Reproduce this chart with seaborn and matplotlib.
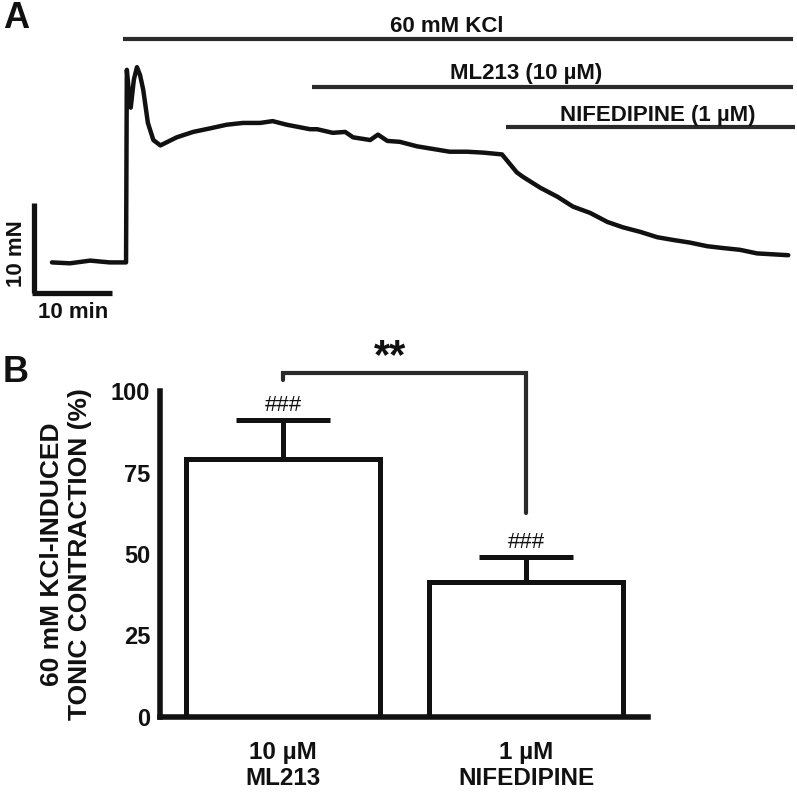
import pandas as pd
import matplotlib
matplotlib.use("Agg")
import matplotlib.pyplot as plt
import seaborn as sns

# Panel A: isometric tension trace (time in min, force in mN)
trace_t = [2.3, 4.6, 7.2, 9.7, 11.8, 11.9, 12.2, 12.4, 12.8, 13.2, 13.6, 14.0, 14.6,
           15.3, 16.2, 18.3, 20.4, 22.6, 24.7, 26.8, 29.0, 30.6, 32.4, 35.4, 36.3,
           38.3, 39.9, 40.9, 43.1, 44.1, 45.3, 46.9, 49.1, 51.2, 53.3, 55.5, 57.6,
           60.0, 61.9, 62.7, 64.9, 67.1, 69.1, 71.3, 73.5, 75.5, 77.7, 79.9, 81.9,
           84.1, 86.3, 88.3, 90.5, 92.7, 94.7, 96.7]
trace_f = [3.4, 3.3, 3.6, 3.4, 3.4, 24.8, 22.0, 20.6, 23.7, 25.1, 24.2, 22.6, 18.9,
           17.0, 16.4, 17.3, 17.9, 18.3, 18.7, 18.9, 18.9, 19.1, 18.7, 18.2, 18.2,
           17.8, 17.9, 17.3, 17.0, 17.6, 16.9, 16.8, 16.3, 16.0, 15.7, 15.7, 15.6,
           15.4, 13.4, 12.9, 11.7, 10.7, 9.6, 8.9, 7.9, 7.3, 6.8, 6.2, 5.9,
           5.6, 5.2, 5.0, 4.8, 4.4, 4.3, 4.2]

# drug application periods (min)
drug_names = ["60 mM KCl", "ML213 (10 µM)", "NIFEDIPINE (1 µM)"]
drug_start = [11.4, 35.6, 60.5]
drug_end = [97.3, 97.3, 97.6]

# Panel B: bar chart
groups = ["10 µM\nML213", "1 µM\nNIFEDIPINE"]
means = [79, 41.5]
sem = [12, 7.5]

sns.set_style("white")
plt.rcParams['font.family'] = ['Liberation Sans', 'DejaVu Sans']
plt.rcParams['font.weight'] = 'bold'

fig = plt.figure(figsize=(7.97, 7.94), dpi=100)
ink = "#111111"

# ---------- panel A ----------
ax_a = fig.add_axes([0, (794 - 320) / 794, 1, 320 / 794])
trace = pd.DataFrame({"t": trace_t, "f": trace_f})
sns.lineplot(data=trace, x="t", y="f", color=ink, linewidth=3.2, sort=False,
             estimator=None, ax=ax_a)
ax_a.set_xlim(-4.36, 97.82)
ax_a.set_ylim(-3.0, 32.56)
ax_a.axis("off")

bar_y = [28.2, 22.9, 18.4]
text_y = [29.0, 23.8, 19.1]
text_x = [45.6, 53.3, 67.4]
for name, s, e, by, tx, ty in zip(drug_names, drug_start, drug_end, bar_y, text_x, text_y):
    ax_a.plot([s, e], [by, by], color="#2a2a2a", lw=3, solid_capstyle="butt")
    ax_a.text(tx, ty, name, fontsize=16, fontweight="bold", color=ink,
              ha="left", va="baseline")

# scale bars
ax_a.plot([0, 0], [0, 10], color=ink, lw=3.8, solid_capstyle="butt")
ax_a.plot([-0.3, 10], [0, 0], color=ink, lw=3.8, solid_capstyle="butt")
ax_a.text(-2.3, 4.4, "10 mN", rotation=90, fontsize=16, fontweight="bold",
          color=ink, ha="center", va="center")
ax_a.text(5.0, -2.2, "10 min", fontsize=16, fontweight="bold", color=ink,
          ha="center", va="center")

# ---------- panel B ----------
ax_b = fig.add_axes([160 / 797, (794 - 717) / 794, 488 / 797, 326 / 794])
bars = pd.DataFrame({"group": groups, "value": means})
sns.barplot(data=bars, x="group", y="value", color="white", saturation=1,
            edgecolor=ink, linewidth=3.6, errorbar=None, width=0.8, ax=ax_b)
ax_b.errorbar([0, 1], means, yerr=[[0, 0], sem], fmt="none", ecolor=ink,
              elinewidth=3.6, capsize=34, capthick=3.6, zorder=1)

ax_b.set_xlim(-0.506, 1.502)
ax_b.set_ylim(0, 100)
ax_b.set_yticks([0, 25, 50, 75, 100])
sns.despine(ax=ax_b)
for sp in ["left", "bottom"]:
    ax_b.spines[sp].set_linewidth(4)
    ax_b.spines[sp].set_color(ink)
ax_b.tick_params(axis="both", length=6, width=3.5, color=ink, direction="out")
ax_b.tick_params(axis="y", labelsize=17, pad=1, labelcolor=ink)
ax_b.tick_params(axis="x", labelsize=17.5, pad=11, labelcolor=ink)
for lab in ax_b.get_xticklabels() + ax_b.get_yticklabels():
    lab.set_fontweight("bold")
ax_b.set_xlabel("")
ax_b.set_ylabel("60 mM KCl-INDUCED\nTONIC CONTRACTION (%)", fontsize=19,
                fontweight="bold", color=ink, linespacing=1.2)
ax_b.yaxis.set_label_coords(-0.14, 0.5)

# significance marks
ax_b.plot([0, 0, 1, 1], [103.4, 105.5, 105.5, 62.5], color="#2a2a2a", lw=3,
          clip_on=False, solid_joinstyle="miter")
ax_b.text(0.44, 110.5, "**", fontsize=30, fontweight="bold", color=ink,
          ha="center", va="center", clip_on=False)
ax_b.text(0, 95.4, "###", fontsize=16, fontweight="normal", color=ink,
          ha="center", va="center")
ax_b.text(1, 53.4, "###", fontsize=16, fontweight="normal", color=ink,
          ha="center", va="center")

fig.text(3 / 797, 1 - 18 / 794, "A", fontsize=26, fontweight="bold", color=ink,
         ha="left", va="center")
fig.text(3 / 797, 1 - 373 / 794, "B", fontsize=26, fontweight="bold", color=ink,
         ha="left", va="center")

fig.savefig("out.png", dpi=100)
